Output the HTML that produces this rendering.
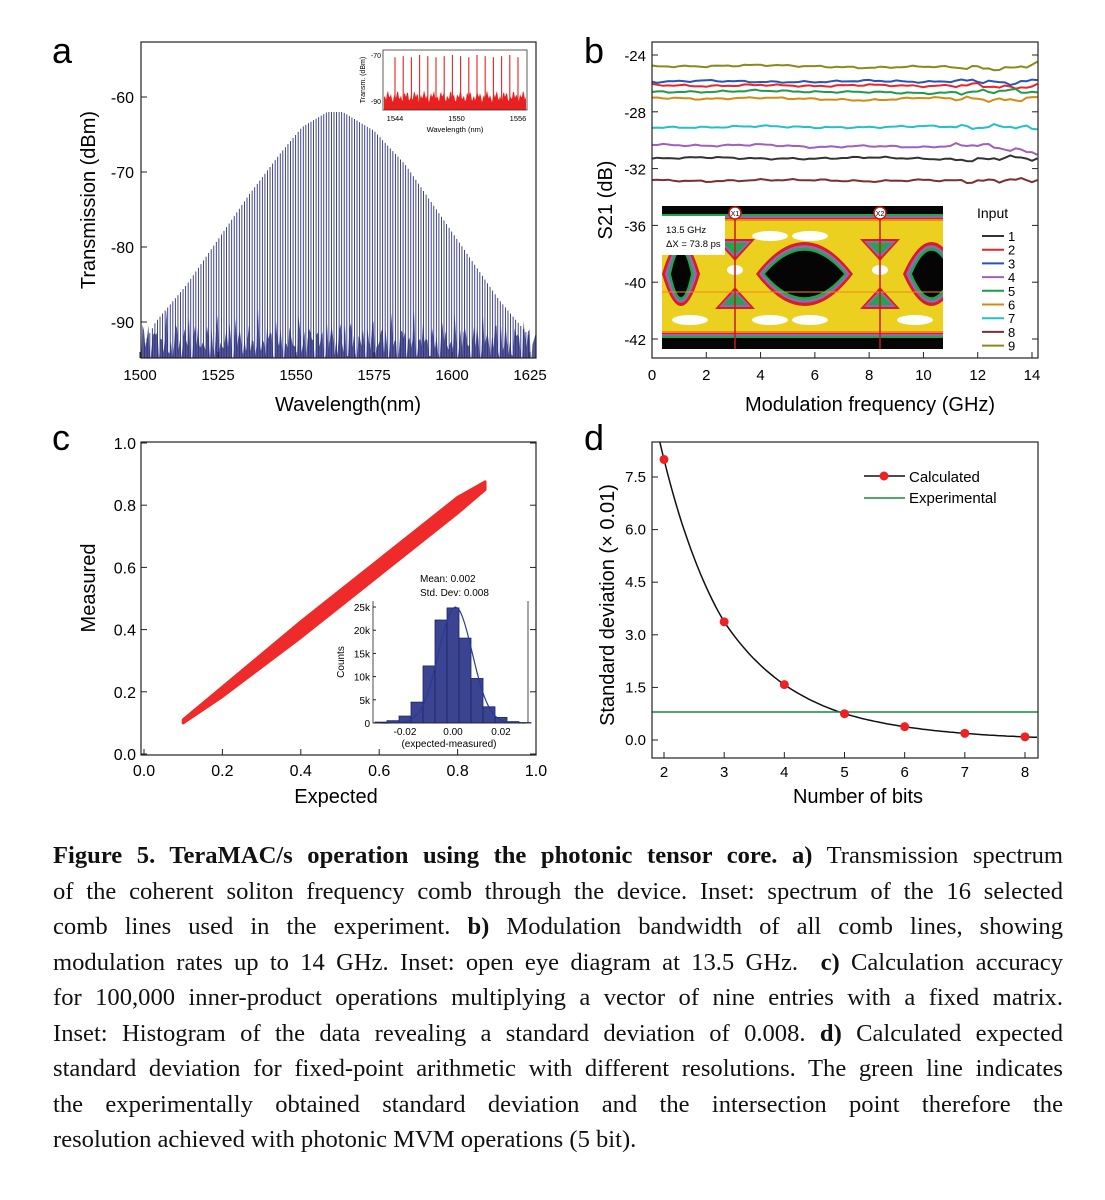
<!DOCTYPE html>
<html><head><meta charset="utf-8">
<style>
html,body{margin:0;padding:0;background:#fff;}
body{width:1105px;height:1200px;position:relative;overflow:hidden;}
svg text{font-family:"Liberation Sans",sans-serif;}
#caption{position:absolute;left:53px;top:838px;width:1010px;font-family:"Liberation Serif",serif;font-size:24.6px;line-height:35.5px;color:#111;}
#caption div{text-align:justify;text-align-last:justify;white-space:nowrap;}
#caption div.last{text-align-last:left;}
</style></head>
<body>
<svg id="fig" width="1105" height="830" style="position:absolute;left:0;top:0">
<defs>
<clipPath id="clipA"><rect x="141" y="42" width="395" height="316"/></clipPath>
<clipPath id="clipB"><rect x="652" y="42" width="386" height="316"/></clipPath>
<clipPath id="clipD"><rect x="652" y="442" width="386" height="316"/></clipPath>
<clipPath id="clipEye"><rect x="662" y="206" width="281" height="143"/></clipPath>
</defs>
<g id="gA"></g><g id="gB"></g><g id="gC"></g><g id="gD"></g>
</svg>
<div id="caption">
<div><b>Figure 5. TeraMAC/s operation using the photonic tensor core. a)</b> Transmission spectrum</div>
<div>of the coherent soliton frequency comb through the device. Inset: spectrum of the 16 selected</div>
<div>comb lines used in the experiment. <b>b)</b> Modulation bandwidth of all comb lines, showing</div>
<div>modulation rates up to 14 GHz. Inset: open eye diagram at 13.5 GHz. &nbsp;<b>c)</b> Calculation accuracy</div>
<div>for 100,000 inner-product operations multiplying a vector of nine entries with a fixed matrix.</div>
<div>Inset: Histogram of the data revealing a standard deviation of 0.008. <b>d)</b> Calculated expected</div>
<div>standard deviation for fixed-point arithmetic with different resolutions. The green line indicates</div>
<div>the experimentally obtained standard deviation and the intersection point therefore the</div>
<div class="last">resolution achieved with photonic MVM operations (5 bit).</div>
</div>
<script>
// ---- Panel a data ----
const envWl = [1500,1505,1515,1525,1535,1545,1552,1560,1565,1575,1585,1595,1605,1615,1625];
const envDb = [-94,-90,-85,-79,-73,-67.5,-64,-62,-62,-64.5,-69,-75,-81,-87,-92];
const aXTicks = [1500,1525,1550,1575,1600,1625];
const aYTicks = [-60,-70,-80,-90];
const insetWl = [1544,1544.8,1545.6,1546.4,1547.2,1548,1548.8,1549.6,1550.4,1551.2,1552,1552.8,1553.6,1554.4,1555.2,1556];
const insetDb = [-71,-70.5,-71,-70,-70.5,-71,-70.5,-70,-70.5,-71,-70,-70.5,-71,-70.5,-70,-71];
// ---- Panel b data ----
const bFreq = [0,2,4,6,8,10,12,13,14.2];
const bS21_1 = [-31.3,-31.2,-31.3,-31.3,-31.2,-31.3,-31.4,-31.2,-31.3];
const bS21_2 = [-26.1,-26.2,-26.1,-26.2,-26.1,-26.2,-26.1,-26.3,-26.2];
const bS21_3 = [-25.9,-25.8,-25.9,-25.9,-25.8,-25.9,-25.8,-26.0,-25.8];
const bS21_4 = [-30.3,-30.4,-30.3,-30.5,-30.4,-30.5,-30.3,-30.6,-30.9];
const bS21_5 = [-26.6,-26.6,-26.5,-26.6,-26.6,-26.7,-26.6,-26.5,-26.6];
const bS21_6 = [-27.0,-27.1,-27.0,-27.1,-27.2,-27.0,-27.1,-27.2,-27.0];
const bS21_7 = [-29.1,-29.1,-29.0,-29.1,-29.1,-29.0,-29.1,-29.0,-29.2];
const bS21_8 = [-32.8,-32.9,-32.8,-32.8,-32.9,-32.8,-32.9,-32.8,-32.8];
const bS21_9 = [-24.8,-24.8,-24.7,-24.8,-24.9,-24.8,-24.9,-25.0,-24.6];
const bSeries = [bS21_1,bS21_2,bS21_3,bS21_4,bS21_5,bS21_6,bS21_7,bS21_8,bS21_9];
const bColors = ["#333","#e8262a","#2a52b8","#a05fc0","#1f9a4a","#d38b10","#22c0c8","#7a3030","#8a8a18"];
const bXTicks = [0,2,4,6,8,10,12,14];
const bYTicks = [-24,-28,-32,-36,-40,-44];
const bYLabels = ["-24","-28","-32","-36","-40","-42"];
// ---- Panel c data ----
const cBandX = [0.10,0.2,0.3,0.4,0.5,0.6,0.7,0.8,0.87];
const cBandLo = [0.10,0.185,0.28,0.375,0.475,0.575,0.675,0.775,0.85];
const cBandHi = [0.11,0.215,0.32,0.425,0.525,0.625,0.725,0.825,0.875];
const cTicks = [0.0,0.2,0.4,0.6,0.8,1.0];
const histCenters = [-0.03,-0.025,-0.02,-0.015,-0.01,-0.005,0,0.005,0.01,0.015,0.02,0.025,0.03];
const histCounts = [200,500,1500,4500,12300,22200,24800,18300,9600,3500,1200,300,100];
const histYTicks = [0,5000,10000,15000,20000,25000];
const histYLabels = ["0","5k","10k","15k","20k","25k"];
const histXTicks = [-0.02,0,0.02];
// ---- Panel d data ----
const dBits = [2,3,4,5,6,7,8];
const dStd = [8.0,3.37,1.58,0.75,0.38,0.19,0.09];
const dExp = 0.8;
const dXTicks = [2,3,4,5,6,7,8];
const dYTicks = [0,1.5,3,4.5,6,7.5];

const NS="http://www.w3.org/2000/svg";
function el(parent,tag,attrs,text){const e=document.createElementNS(NS,tag);for(const k in attrs)e.setAttribute(k,attrs[k]);if(text!==undefined)e.textContent=text;parent.appendChild(e);return e;}
function lin(d0,d1,r0,r1){return v=>r0+(v-d0)*(r1-r0)/(d1-d0);}
function interp(xs,ys,x){if(x<=xs[0])return ys[0];for(let i=1;i<xs.length;i++){if(x<=xs[i]){const t=(x-xs[i-1])/(xs[i]-xs[i-1]);return ys[i-1]+t*(ys[i]-ys[i-1]);}}return ys[ys.length-1];}

// ===== Panel a =====
(function(){
const g=document.getElementById('gA');
const x=lin(1500,1625,140,530), y=lin(-60,-90,97,322);
let t=el(g,'text',{x:52,y:63,'font-size':36});t.textContent='a';


const plot=el(g,'g',{'clip-path':'url(#clipA)'});


let fd='M141,358';
for(let px=141;px<=536;px+=1.5){const h=-93+1.6*Math.sin(px*1.37)+1.2*Math.sin(px*0.61+1)+ (Math.sin(px*3.1)>0.8?2:0);fd+='L'+px+','+y(h).toFixed(1);}
fd+='L536,358Z';
el(plot,'path',{d:fd,fill:'#2a2f78',opacity:0.8});
for(let w=1501.5;w<1625;w+=0.82){
  const top=interp(envWl,envDb,w);
  const ln=el(plot,'line',{x1:x(w),x2:x(w),y1:y(-95),y2:y(top),stroke:'#2c3080','stroke-width':0.9});
  
  
}
el(g,'rect',{x:141,y:42,width:395,height:316,fill:'none',stroke:'#222','stroke-width':1.2});
aXTicks.forEach(v=>{el(g,'line',{x1:x(v),x2:x(v),y1:358,y2:352,stroke:'#222'});const tt=el(g,'text',{x:x(v),y:380,'font-size':15,'text-anchor':'middle'},String(v));});
aYTicks.forEach(v=>{el(g,'line',{x1:141,x2:147,y1:y(v),y2:y(v),stroke:'#222'});const tt=el(g,'text',{x:134,y:y(v)+6,'font-size':16,'text-anchor':'end'},String(v));});
t=el(g,'text',{x:348,y:411,'font-size':20,'text-anchor':'middle'},'Wavelength(nm)');
t=el(g,'text',{x:95,y:200,'font-size':20,'text-anchor':'middle',transform:'rotate(-90 95 200)'},'Transmission (dBm)');
// inset
const ix=lin(1544,1556,395,518), iy=lin(-70,-90,55,101);
const ins=el(g,'g',{});
el(ins,'rect',{x:383,y:50,width:144,height:60,fill:'#fff'});
let id='M384,110';for(let px=384;px<=526;px+=1){id+='L'+px+','+iy(-88+1.5*Math.sin(px*1.9)+1.2*Math.sin(px*0.7)).toFixed(1);}id+='L526,110Z';
el(ins,'path',{d:id,fill:'#e82020'});
insetWl.forEach((w,i)=>{const l=el(ins,'line',{x1:ix(w),x2:ix(w),y1:110,y2:iy(insetDb[i]),stroke:'#e82020','stroke-width':1.1});});
el(ins,'rect',{x:383,y:50,width:144,height:60,fill:'none',stroke:'#333','stroke-width':0.8});
[-70,-90].forEach(v=>el(ins,'text',{x:381,y:iy(v)+3,'font-size':7,'text-anchor':'end'},String(v)));
[1544,1550,1556].forEach(v=>el(ins,'text',{x:ix(v),y:121,'font-size':7.5,'text-anchor':'middle'},String(v)));
el(ins,'text',{x:455,y:132,'font-size':7.5,'text-anchor':'middle'},'Wavelength (nm)');
el(ins,'text',{x:365,y:80,'font-size':7,'text-anchor':'middle',transform:'rotate(-90 365 80)'},'Transm. (dBm)');
})();

// ===== Panel b =====
(function(){
const g=document.getElementById('gB');
const x=lin(0,14,652,1032), y=lin(-24,-44,55,339);
let t=el(g,'text',{x:584,y:63,'font-size':36},'b');
const plot=el(g,'g',{'clip-path':'url(#clipB)'});
bSeries.forEach((s,i)=>{
  let d='';
  for(let f=0;f<=14.2;f+=0.2){const base=interp(bFreq,s,f);const wig=(0.04*Math.sin(f*5.3+i*1.7)+0.03*Math.sin(f*11.1+i))*(f>11?2.5:1);d+=(d?'L':'M')+x(f).toFixed(1)+','+y(base+wig).toFixed(1);}
  const p=el(plot,'path',{d:d,fill:'none',stroke:bColors[i],'stroke-width':2});
  
  
});
// eye diagram inset
const eye=el(g,'g',{'clip-path':'url(#clipEye)'});


el(eye,'rect',{x:662,y:206,width:281,height:143,fill:'#050505'});
const bands=[['#1fa84a',214,338],['#a05fc0',216,336],['#d42020',218,334],['#f08a10',219,333],['#ecd020',221,331]];
bands.forEach(b=>el(eye,'rect',{x:662,y:b[1],width:281,height:b[2]-b[1],fill:b[0]}));
const eyeCols=['#d42020','#a05fc0','#1fa84a','#050505'];
[[662,700,274],[756,853,274],[903,960,274]].forEach(e=>{
  eyeCols.forEach((c,k)=>{
   const h=[40,36,33,29][k], sh=k*3;
   const cx=(e[0]+e[1])/2;
   const a=e[0]+sh, b=e[1]-sh;
   el(eye,'path',{d:`M${a},${e[2]} Q${cx},${e[2]-h*1.6} ${b},${e[2]} Q${cx},${e[2]+h*1.6} ${a},${e[2]}Z`,fill:c});
  });
});
[[735,250,-1],[735,298,1],[880,250,-1],[880,298,1]].forEach(tr=>{
  const cols=['#d42020','#a05fc0','#1fa84a'];
  cols.forEach((c,k)=>{const w=40-k*8,h=22-k*5;
   el(eye,'path',{d:`M${tr[0]-w/2},${tr[2]<0?tr[1]-11+k*2:tr[1]+11-k*2} L${tr[0]+w/2},${tr[2]<0?tr[1]-11+k*2:tr[1]+11-k*2} L${tr[0]},${tr[2]<0?tr[1]-11+k*2+h:tr[1]+11-k*2-h}Z`,fill:c});});
});
[[735,270],[880,270],[770,236],[810,236],[990,236],[770,320],[810,320],[690,320],[915,320]].forEach(p=>el(eye,'ellipse',{cx:p[0],cy:p[1],rx:p[0]===735||p[0]===880?8:18,ry:5,fill:'#fff'}));
el(eye,'line',{x1:662,x2:943,y1:292,y2:292,stroke:'#f08a10','stroke-width':1});
el(eye,'line',{x1:735,x2:735,y1:212,y2:349,stroke:'#c81818','stroke-width':1.5});
el(eye,'line',{x1:880,x2:880,y1:212,y2:349,stroke:'#c81818','stroke-width':1.5});
[[735,'X1'],[880,'X2']].forEach(m=>{el(g,'circle',{cx:m[0],cy:213,r:6,fill:'#fff',stroke:'#c81818','stroke-width':1.5});el(g,'text',{x:m[0],y:216,'font-size':7,'text-anchor':'middle'},m[1]);});
el(g,'rect',{x:662,y:216,width:63,height:39,fill:'#fff'});
el(g,'text',{x:666,y:233,'font-size':9.5},'13.5 GHz');
el(g,'text',{x:666,y:247,'font-size':9.5},'ΔX = 73.8 ps');
t=el(g,'text',{x:977,y:218,'font-size':14},'Input');
bColors.forEach((c,i)=>{const yy=236+i*13.7;const le=el(g,'g',{});
 el(le,'line',{x1:982,x2:1004,y1:yy,y2:yy,stroke:c,'stroke-width':2});el(le,'text',{x:1008,y:yy+5,'font-size':13},String(i+1));});
el(g,'rect',{x:652,y:42,width:386,height:316,fill:'none',stroke:'#222','stroke-width':1.2});
bXTicks.forEach(v=>{el(g,'line',{x1:x(v),x2:x(v),y1:358,y2:352,stroke:'#222'});el(g,'text',{x:x(v),y:380,'font-size':15,'text-anchor':'middle'},String(v));});
bYTicks.forEach((v,i)=>{el(g,'line',{x1:652,x2:658,y1:y(v),y2:y(v),stroke:'#222'});el(g,'line',{x1:1038,x2:1032,y1:y(v),y2:y(v),stroke:'#222'});el(g,'text',{x:646,y:y(v)+6,'font-size':15,'text-anchor':'end'},bYLabels[i]);});
t=el(g,'text',{x:870,y:411,'font-size':20,'text-anchor':'middle'},'Modulation frequency (GHz)');
t=el(g,'text',{x:612,y:200,'font-size':20,'text-anchor':'middle',transform:'rotate(-90 612 200)'},'S21 (dB)');
})();

// ===== Panel c =====
(function(){
const g=document.getElementById('gC');
const x=lin(0,1,144,536), y=lin(0,1,754,443);
let t=el(g,'text',{x:52,y:450,'font-size':36},'c');
let d='';cBandX.forEach((v,i)=>d+=(i?'L':'M')+x(v)+','+y(cBandHi[i]));
for(let i=cBandX.length-1;i>=0;i--)d+='L'+x(cBandX[i])+','+y(cBandLo[i]);
const band=el(g,'path',{d:d+'Z',fill:'#ee2a2a',stroke:'#ee2a2a','stroke-width':3,'stroke-linejoin':'round'});

el(g,'rect',{x:141,y:442,width:395,height:313,fill:'none',stroke:'#222','stroke-width':1.2});
cTicks.forEach(v=>{el(g,'line',{x1:x(v),x2:x(v),y1:755,y2:749,stroke:'#222'});el(g,'text',{x:x(v),y:776,'font-size':16,'text-anchor':'middle'},v.toFixed(1));
 el(g,'line',{x1:141,x2:147,y1:y(v),y2:y(v),stroke:'#222'});el(g,'line',{x1:536,x2:530,y1:y(v),y2:y(v),stroke:'#222'});el(g,'text',{x:136,y:y(v)+6,'font-size':16,'text-anchor':'end'},v.toFixed(1));});
t=el(g,'text',{x:336,y:803,'font-size':20,'text-anchor':'middle'},'Expected');
t=el(g,'text',{x:95,y:588,'font-size':20,'text-anchor':'middle',transform:'rotate(-90 95 588)'},'Measured');
const hx=lin(0,0.02,453,501), hy=lin(0,25000,723,607);
const hg=el(g,'g',{});
el(hg,'rect',{x:373,y:601,width:155,height:122,fill:'#fff'});
const bw=0.005;
histCenters.forEach((c,i)=>{const r=el(hg,'rect',{x:hx(c-bw/2),y:hy(histCounts[i]),width:hx(bw)-hx(0),height:723-hy(histCounts[i]),fill:'#3a4490',stroke:'#1e2468','stroke-width':0.8});});
let gd='';for(let v=-0.03;v<=0.0301;v+=0.001){gd+=(gd?'L':'M')+hx(v).toFixed(1)+','+hy(25000*Math.exp(-((v-0.001)**2)/(2*0.007*0.007))).toFixed(1);}
el(hg,'path',{d:gd,fill:'none',stroke:'#2a3a9a','stroke-width':1.2});
el(hg,'path',{d:'M373,601 L373,723 L528,723 L528,601',fill:'none',stroke:'#222','stroke-width':0.8});
histYTicks.forEach((v,i)=>{el(hg,'line',{x1:373,x2:376,y1:hy(v),y2:hy(v),stroke:'#222'});el(hg,'text',{x:370,y:hy(v)+4,'font-size':10,'text-anchor':'end'},histYLabels[i]);});
histXTicks.forEach(v=>el(hg,'text',{x:hx(v),y:735,'font-size':10,'text-anchor':'middle'},v.toFixed(2)));
el(hg,'text',{x:449,y:747,'font-size':10,'text-anchor':'middle'},'(expected-measured)');
el(hg,'text',{x:344,y:662,'font-size':10,'text-anchor':'middle',transform:'rotate(-90 344 662)'},'Counts');
el(hg,'text',{x:420,y:582,'font-size':10},'Mean: 0.002');
el(hg,'text',{x:420,y:596,'font-size':10},'Std. Dev: 0.008');
})();

// ===== Panel d =====
(function(){
const g=document.getElementById('gD');
const x=lin(2,8,664,1025), y=lin(0,7.5,740,477);
let t=el(g,'text',{x:584,y:450,'font-size':36},'d');
const plot=el(g,'g',{'clip-path':'url(#clipD)'});
const ld=dStd.map(Math.log);
let d='';
for(let b=1.8;b<=8.2;b+=0.05){let lv;
 if(b<2){lv=ld[0]+(b-2)*(ld[1]-ld[0]);}else if(b>8){lv=ld[6]+(b-8)*(ld[6]-ld[5]);}else lv=interp(dBits,ld,b);
 d+=(d?'L':'M')+x(b).toFixed(1)+','+y(Math.exp(lv)).toFixed(1);}
let p=el(plot,'path',{d:d,fill:'none',stroke:'#111','stroke-width':1.5});
p=el(plot,'line',{x1:652,x2:1038,y1:y(dExp),y2:y(dExp),stroke:'#1a8a3a','stroke-width':1.5});
dBits.forEach((b,i)=>{const c=el(g,'circle',{cx:x(b),cy:y(dStd[i]),r:4.5,fill:'#ee2222'});});
el(g,'rect',{x:652,y:442,width:386,height:316,fill:'none',stroke:'#222','stroke-width':1.2});
dXTicks.forEach(v=>{el(g,'line',{x1:x(v),x2:x(v),y1:758,y2:752,stroke:'#222'});el(g,'text',{x:x(v),y:777,'font-size':15,'text-anchor':'middle'},String(v));});
dYTicks.forEach(v=>{el(g,'line',{x1:652,x2:658,y1:y(v),y2:y(v),stroke:'#222'});el(g,'text',{x:646,y:y(v)+5,'font-size':15,'text-anchor':'end'},v.toFixed(1));});
const lg=el(g,'g',{});
el(lg,'line',{x1:864,x2:905,y1:476,y2:476,stroke:'#111','stroke-width':1.5});el(lg,'circle',{cx:884,cy:476,r:4.5,fill:'#ee2222'});
el(lg,'text',{x:909,y:482,'font-size':15},'Calculated');
el(lg,'line',{x1:864,x2:905,y1:498,y2:498,stroke:'#1a8a3a','stroke-width':1.5});
el(lg,'text',{x:909,y:503,'font-size':15},'Experimental');
t=el(g,'text',{x:858,y:803,'font-size':20,'text-anchor':'middle'},'Number of bits');
t=el(g,'text',{x:614,y:605,'font-size':20,'text-anchor':'middle',transform:'rotate(-90 614 605)'},'Standard deviation (× 0.01)');
})();
</script>
</body></html>
